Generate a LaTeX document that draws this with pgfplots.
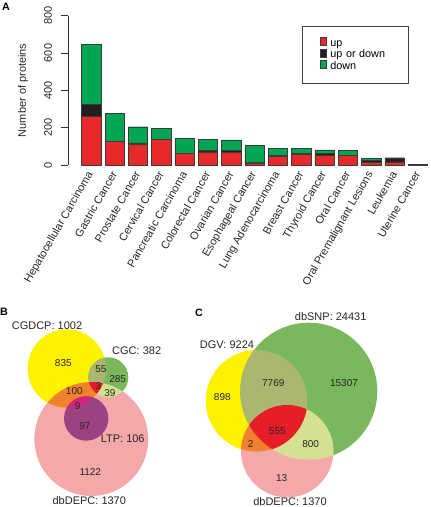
\documentclass[border=0pt]{standalone}
\usepackage{pgfplots}
\usepackage{pgfplotstable}
\pgfplotsset{compat=1.18}
\usepackage{fontspec}
\setmainfont{Liberation Sans}

\definecolor{barred}{RGB}{232,41,44}
\definecolor{bargreen}{RGB}{0,166,81}
\definecolor{barblack}{RGB}{35,31,32}
\definecolor{barline}{RGB}{60,60,55}
\definecolor{vyellow}{RGB}{255,242,0}
\definecolor{vgreen}{RGB}{122,184,94}
\definecolor{vpink}{RGB}{244,168,170}
\definecolor{volive}{RGB}{171,183,112}
\definecolor{vpale}{RGB}{212,225,145}
\definecolor{vorange}{RGB}{240,130,45}
\definecolor{vred}{RGB}{230,30,40}
\definecolor{vpurple}{RGB}{156,66,131}
\definecolor{vmagenta}{RGB}{212,35,125}
\definecolor{vtext}{RGB}{40,36,36}

\pgfplotstableread{
i up uod down
1 261 64 323
2 126 2 149
3 109 10 86
4 136 2 58
5 61 2 80
6 70 9 58
7 68 9 57
8 11 5 89
9 45 8 38
10 57 6 28
11 50 13 18
12 50 2 28
13 14 10 11
14 17 22 0
15 3 1 1
}\proteins

\newcommand{\lblfont}{\fontsize{11}{13}\selectfont}
\newcommand{\numfont}{\fontsize{10}{12}\selectfont}
\newcommand{\lgfont}{\fontsize{10.8}{12}\selectfont}

% small square legend images for the bars
\pgfplotsset{ybar legend/.style={legend image code/.code={%
  \fill[#1, draw=none] (0pt,0.6pt) rectangle (4.6pt,5.2pt);}}}

% filled disc without outline (radius = mark size)
\pgfdeclareplotmark{disc}{\pgfpathcircle{\pgfpointorigin}{\pgfplotmarksize}\pgfusepath{fill}}
\newcommand{\venncirc}[4]{\addplot[only marks, mark=disc, mark size=#4pt, mark options={draw=none, fill=#1}] coordinates {(#2,#3)};}
% lens marks: plotted at the centre of the first circle, offsets in pt (y up)
\pgfdeclareplotmark{BYP}{\pgfscope
  \pgfpathcircle{\pgfpointorigin}{39.2pt}\pgfusepath{clip}
  \pgfpathcircle{\pgfpoint{24.5pt}{-70.5pt}}{57pt}\pgfusepath{fill}\endpgfscope}
\pgfdeclareplotmark{BYG}{\pgfscope
  \pgfpathcircle{\pgfpointorigin}{39.2pt}\pgfusepath{clip}
  \pgfpathcircle{\pgfpoint{41.5pt}{-8.8pt}}{20pt}\pgfusepath{fill}\endpgfscope}
\pgfdeclareplotmark{BGP}{\pgfscope
  \pgfpathcircle{\pgfpointorigin}{20pt}\pgfusepath{clip}
  \pgfpathcircle{\pgfpoint{-17pt}{-61.7pt}}{57pt}\pgfusepath{fill}\endpgfscope}
\pgfdeclareplotmark{BYGP}{\pgfscope
  \pgfpathcircle{\pgfpointorigin}{39.2pt}\pgfusepath{clip}
  \pgfpathcircle{\pgfpoint{41.5pt}{-8.8pt}}{20pt}\pgfusepath{clip}
  \pgfpathcircle{\pgfpoint{24.5pt}{-70.5pt}}{57pt}\pgfusepath{fill}\endpgfscope}
\pgfdeclareplotmark{BYL}{\pgfscope
  \pgfpathcircle{\pgfpointorigin}{39.2pt}\pgfusepath{clip}
  \pgfpathcircle{\pgfpoint{19.4pt}{-50pt}}{22.2pt}\pgfusepath{fill}\endpgfscope}
\pgfdeclareplotmark{CYG}{\pgfscope
  \pgfpathcircle{\pgfpointorigin}{50.8pt}\pgfusepath{clip}
  \pgfpathcircle{\pgfpoint{52.3pt}{9.6pt}}{68.5pt}\pgfusepath{fill}\endpgfscope}
\pgfdeclareplotmark{CGP}{\pgfscope
  \pgfpathcircle{\pgfpointorigin}{68.5pt}\pgfusepath{clip}
  \pgfpathcircle{\pgfpoint{-21.6pt}{-60pt}}{46.2pt}\pgfusepath{fill}\endpgfscope}
\pgfdeclareplotmark{CYP}{\pgfscope
  \pgfpathcircle{\pgfpointorigin}{50.8pt}\pgfusepath{clip}
  \pgfpathcircle{\pgfpoint{30.7pt}{-50.4pt}}{46.2pt}\pgfusepath{fill}\endpgfscope}
\pgfdeclareplotmark{CYGP}{\pgfscope
  \pgfpathcircle{\pgfpointorigin}{50.8pt}\pgfusepath{clip}
  \pgfpathcircle{\pgfpoint{52.3pt}{9.6pt}}{68.5pt}\pgfusepath{clip}
  \pgfpathcircle{\pgfpoint{30.7pt}{-50.4pt}}{46.2pt}\pgfusepath{fill}\endpgfscope}
\newcommand{\vennlens}[4]{\addplot[only marks, mark=#2, mark options={draw=none, fill=#1}] coordinates {(#3,#4)};}

\pgfplotsset{vennaxis/.style={
  scale only axis, width=431pt, height=507pt,
  at={(0pt,0pt)}, anchor=south west,
  xmin=0, xmax=431, ymin=0, ymax=507, y dir=reverse,
  hide axis, clip=false}}

\begin{document}
\begin{tikzpicture}
\useasboundingbox (0,0) rectangle (431pt,507pt);

% ---------------- Panel A: bar chart ----------------
\begin{axis}[
  scale only axis, width=363pt, height=149.3pt,
  at={(68pt,342pt)}, anchor=south west,
  xmin=0, xmax=15.56, ymin=0, ymax=800,
  ybar stacked, bar width=19.3pt,
  font=\lblfont,
  axis lines=left, axis line style={-, line width=0.5pt, black!80},
  x axis line style={draw=none},
  xtick={1,...,15},
  xticklabels={Hepatocellular Carcinoma, Gastric Cancer, Prostate Cancer, Cervical Cancer, Pancreatic Carcinoma, Colorectal Cancer, Ovarian Cancer, Esophageal Cancer, Lung Adenocarcinoma, Breast Cancer, Thyroid Cancer, Oral Cancer, Oral Premalignant Lesions, Leukemia, Uterine Cancer},
  xtick style={draw=none},
  ytick={0,200,...,800},
  tick align=outside, major tick length=6.5pt,
  ytick style={line width=0.5pt, black!80},
  /pgf/number format/assume math mode=true,
  every tick label/.append style={font=\lblfont, text=black!85},
  yticklabel style={rotate=90, anchor=south},
  yticklabel shift=6pt,
  xticklabel style={rotate=60, anchor=east, inner sep=1pt},
  ylabel={Number of proteins},
  ylabel style={at={(axis description cs:-0.124,0.5)}, anchor=center, font=\lblfont, text=black!85},
  legend style={at={(0.6455,0.931)}, anchor=north west, draw=black!75, line width=0.6pt,
    font=\lgfont, inner xsep=17.4pt, inner ysep=11pt,
    nodes={inner xsep=4pt, inner ysep=1pt, text height=7pt, text depth=1.7pt, text width=56pt}},
  legend cell align=left,
  clip=false,
]
\addplot[fill=barred, draw=barline, line width=0.4pt] table[x=i, y=up] {\proteins};
\addlegendentry{up}
\addplot[fill=barblack, draw=barline, line width=0.4pt] table[x=i, y=uod] {\proteins};
\addlegendentry{up or down}
\addplot[fill=bargreen, draw=barline, line width=0.4pt] table[x=i, y=down] {\proteins};
\addlegendentry{down}
\end{axis}

% ---------------- Panels B and C: Venn diagrams ----------------
\begin{axis}[vennaxis]
% Panel B
\venncirc{vpink}{91.3}{439}{57}
\venncirc{vyellow}{66.8}{368.5}{39.2}
\venncirc{vgreen}{108.3}{377.3}{20}
\vennlens{vorange}{BYP}{66.8}{368.5}
\vennlens{volive}{BYG}{66.8}{368.5}
\vennlens{vpale}{BGP}{108.3}{377.3}
\vennlens{vred}{BYGP}{66.8}{368.5}
\venncirc{vpurple}{86.2}{418.5}{22.2}
\vennlens{vmagenta}{BYL}{66.8}{368.5}
% Panel C
\venncirc{vyellow}{256.5}{400.8}{50.8}
\venncirc{vgreen}{308.8}{391.2}{68.5}
\venncirc{vpink}{287.2}{451.2}{46.2}
\vennlens{volive}{CYG}{256.5}{400.8}
\vennlens{vpale}{CGP}{308.8}{391.2}
\vennlens{vorange}{CYP}{256.5}{400.8}
\vennlens{vred}{CYGP}{256.5}{400.8}
\end{axis}

\begin{axis}[vennaxis]
% Panel B labels
\node[font=\lblfont, text=vtext] at (axis cs:47,325.7) {CGDCP: 1002};
\node[font=\lblfont, text=vtext] at (axis cs:136.7,351) {CGC: 382};
\node[font=\numfont, text=vtext] at (axis cs:63.3,362.7) {835};
\node[font=\numfont, text=vtext] at (axis cs:101,369.3) {55};
\node[font=\numfont, text=vtext] at (axis cs:117.7,379) {285};
\node[font=\numfont, text=vtext] at (axis cs:74.3,391) {100};
\node[font=\numfont, text=vtext] at (axis cs:98.3,386) {3};
\node[font=\numfont, text=vtext] at (axis cs:110,392.7) {39};
\node[font=\numfont, text=vtext] at (axis cs:77.7,406) {9};
\node[font=\numfont, text=vtext] at (axis cs:85,425.7) {97};
\node[font=\lblfont, text=vtext] at (axis cs:122.7,438.3) {LTP: 106};
\node[font=\numfont, text=vtext] at (axis cs:90.3,472.3) {1122};
\node[font=\lblfont, text=vtext] at (axis cs:89.3,501) {dbDEPC: 1370};
% Panel C labels
\node[font=\lblfont, text=vtext] at (axis cs:330.7,316.7) {dbSNP: 24431};
\node[font=\lblfont, text=vtext] at (axis cs:227,344.3) {DGV: 9224};
\node[font=\numfont, text=vtext] at (axis cs:273.3,383.3) {7769};
\node[font=\numfont, text=vtext] at (axis cs:344,383.3) {15307};
\node[font=\numfont, text=vtext] at (axis cs:222.3,397.3) {898};
\node[font=\numfont, text=vtext] at (axis cs:277.3,431) {555};
\node[font=\numfont, text=vtext] at (axis cs:250.7,444.3) {2};
\node[font=\numfont, text=vtext] at (axis cs:310.7,444.3) {800};
\node[font=\numfont, text=vtext] at (axis cs:281.7,478.3) {13};
\node[font=\lblfont, text=vtext] at (axis cs:290,501.8) {dbDEPC: 1370};
% panel letters
\node[font=\bfseries\fontsize{10.7}{12}\selectfont] at (axis cs:6,6.5) {A};
\node[font=\bfseries\fontsize{10.7}{12}\selectfont] at (axis cs:4,312) {B};
\node[font=\bfseries\fontsize{10.7}{12}\selectfont] at (axis cs:199,312.5) {C};
\end{axis}
\end{tikzpicture}
\end{document}
